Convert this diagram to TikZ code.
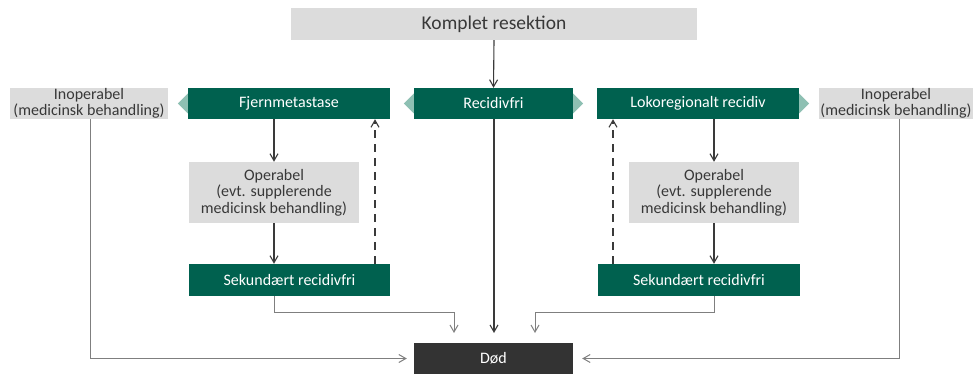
\documentclass[tikz,border=0pt]{standalone}
\usepackage{fontspec}
\setmainfont{Carlito}
\usetikzlibrary{arrows.meta}
\definecolor{dgreen}{HTML}{00614F}
\definecolor{lgray}{HTML}{DCDCDC}
\definecolor{tgray}{HTML}{383838}
\definecolor{dbox}{HTML}{333333}
\definecolor{tri}{HTML}{8EC0B3}
\definecolor{ldark}{HTML}{3A3A3A}
\definecolor{llight}{HTML}{7F7F7F}
\tikzset{
  base/.style={rectangle, inner sep=0pt, align=center, font=\fontsize{16}{16.5}\selectfont},
  greenbox/.style={base, fill=dgreen, text=white},
  graybox/.style={base, fill=lgray, text=tgray},
  deathbox/.style={base, fill=dbox, text=white},
  arr/.style={draw=ldark, line width=1.1pt, -{Straight Barb[length=7pt,width=8pt]}},
  garr/.style={draw=llight, line width=1pt, -{Straight Barb[length=7pt,width=8pt]}},
  darr/.style={arr, dash pattern=on 8pt off 6pt},
  trifill/.style={fill=tri}
}
\begin{document}
\begin{tikzpicture}[x=1pt,y=-1pt]
\useasboundingbox (0,0) rectangle (973,374);
% boxes
\node[graybox, minimum width=406pt, minimum height=32pt, font=\fontsize{19.5}{20}\selectfont] (top) at (494,24) {Komplet resektion};
\node[graybox, minimum width=158pt, minimum height=31pt] (inopL) at (89,103.5) {Inoperabel\\(medicinsk behandling)};
\node[greenbox, minimum width=202pt, minimum height=31pt] (fjern) at (289,103.5) {Fjernmetastase};
\node[greenbox, minimum width=159pt, minimum height=31pt] (recid) at (493.5,103.5) {Recidivfri};
\node[greenbox, minimum width=202pt, minimum height=31pt] (loko) at (698,103.5) {Lokoregionalt recidiv};
\node[graybox, minimum width=154pt, minimum height=31pt] (inopR) at (896,103.5) {Inoperabel\\(medicinsk behandling)};
\node[graybox, minimum width=170pt, minimum height=61pt] (opL) at (274,192.5) {Operabel\\(evt. supplerende\\medicinsk behandling)};
\node[graybox, minimum width=170pt, minimum height=61pt] (opR) at (714,192.5) {Operabel\\(evt. supplerende\\medicinsk behandling)};
\node[greenbox, minimum width=201pt, minimum height=32pt] (sekL) at (289.5,280) {Sekundært recidivfri};
\node[greenbox, minimum width=202pt, minimum height=32pt] (sekR) at (699,280) {Sekundært recidivfri};
\node[deathbox, minimum width=159pt, minimum height=31pt] (dod) at (493.5,358.5) {Død};
% triangles
\fill[trifill] (fjern.west) ++(0,-10) -- ++(-10,10) -- ++(10,10) -- cycle;
\fill[trifill] (recid.west) ++(0,-10) -- ++(-10,10) -- ++(10,10) -- cycle;
\fill[trifill] (recid.east) ++(0,-10) -- ++(10,10) -- ++(-10,10) -- cycle;
\fill[trifill] (loko.east) ++(0,-10) -- ++(10,10) -- ++(-10,10) -- cycle;
% coordinates
\coordinate (dL) at (375,264);
\coordinate (dR) at (613,264);
\coordinate (eL) at (454,333);
\coordinate (eM) at (494,333);
\coordinate (eR) at (535,333);
% connectors
\draw[arr] (top.south) -- (recid.north);
\draw[arr] (recid.south -| eM) -- (eM);
\draw[arr] (fjern.south -| opL.north) -- (opL.north);
\draw[arr] (opL.south) -- (opL.south |- sekL.north);
\draw[arr] (loko.south -| opR.north) -- (opR.north);
\draw[arr] (opR.south) -- (opR.south |- sekR.north);
\draw[darr] (dL) -- (dL |- fjern.south);
\draw[darr] (dR) -- (dR |- loko.south);
\draw[garr] (sekL.south -| opL.south) -- ++(0,16) -| (eL);
\draw[garr] (sekR.south -| opR.south) -- ++(0,16) -| (eR);
\draw[garr] (inopL.south -| 90,0) |- ([xshift=-7pt]dod.west);
\draw[garr] (inopR.south -| 899,0) |- ([xshift=9pt]dod.east);
\end{tikzpicture}
\end{document}
